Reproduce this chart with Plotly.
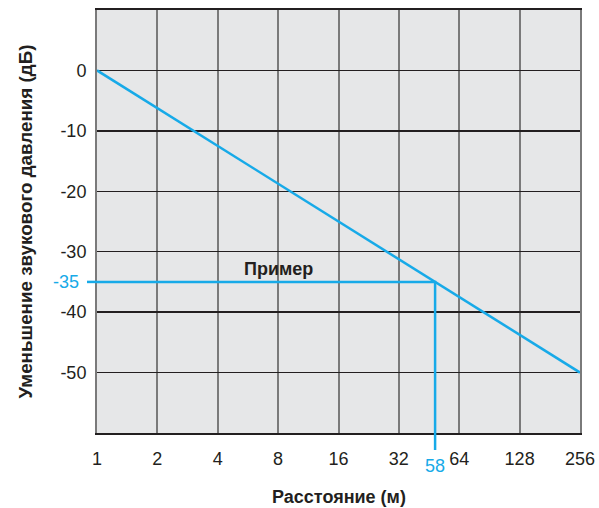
import math
import plotly.graph_objects as go

# ---- data ----
distance_ticks = [1, 2, 4, 8, 16, 32, 64, 128, 256]
distance_tick_labels = ["1", "2", "4", "8", "16", "32", "64", "128", "256"]
level_ticks = [0, -10, -20, -30, -40, -50]
level_tick_labels = ["0", "-10", "-20", "-30", "-40", "-50"]

line_distance = [1, 256]
line_level = [0, -50]

example_level = -35
example_distance = 48.5      # where the drawn example meets the line
example_distance_label = "58"
example_level_label = "-35"
example_label = "Пример"
example_label_pos = (8, -32.8)

x_title = "Расстояние (м)"
y_title = "Уменьшение звукового давления (дБ)"

# ---- style ----
BLUE = "#17aae8"
DARK = "#231f20"
FONT = "Liberation Sans, Arial, sans-serif"
W, H = 599, 508
ML, MR, MT, MB = 97, 19, 10, 75
plot_w = W - ML - MR
plot_h = H - MT - MB
y_range = [-60, 10]

fig = go.Figure()

fig.add_trace(go.Scatter(x=line_distance, y=line_level, mode="lines",
                         line=dict(color=BLUE, width=2.5), hoverinfo="skip"))
# example: horizontal and vertical lines
fig.add_trace(go.Scatter(x=[line_distance[0], example_distance, example_distance],
                         y=[example_level, example_level, y_range[0]],
                         mode="lines", line=dict(color=BLUE, width=2.5), hoverinfo="skip"))

# extensions beyond the plot area
fig.add_shape(type="line", xref="paper", yref="y", x0=-10 / plot_w, x1=0,
              y0=example_level, y1=example_level, line=dict(color=BLUE, width=2.5))
fig.add_shape(type="line", xref="x", yref="paper", x0=example_distance,
              x1=example_distance, y0=-17 / plot_h, y1=0,
              line=dict(color=BLUE, width=2.5))

fig.add_annotation(xref="paper", yref="y", x=0, y=example_level, xshift=-16,
                   text=example_level_label, showarrow=False, xanchor="right",
                   yanchor="middle", font=dict(family=FONT, size=18, color=BLUE))
fig.add_annotation(xref="x", yref="paper", x=math.log10(example_distance), y=-33 / plot_h,
                   text=example_distance_label, showarrow=False, xanchor="center",
                   yanchor="middle", font=dict(family=FONT, size=18, color=BLUE))
fig.add_annotation(xref="x", yref="y", x=math.log10(example_label_pos[0]),
                   y=example_label_pos[1],
                   text="<b>" + example_label + "</b>", showarrow=False,
                   xanchor="center", yanchor="middle",
                   font=dict(family=FONT, size=18, color=DARK))

fig.add_annotation(xref="paper", yref="paper", x=0.5, y=-64 / plot_h,
                   text="<b>" + x_title + "</b>", showarrow=False,
                   xanchor="center", yanchor="middle",
                   font=dict(family=FONT, size=18, color=DARK))
fig.add_annotation(xref="paper", yref="paper", x=0, xshift=-72, y=0.5,
                   text="<b>" + y_title + "</b>", showarrow=False, textangle=-90,
                   xanchor="center", yanchor="middle",
                   font=dict(family=FONT, size=18.8, color=DARK))

fig.update_layout(
    width=W, height=H,
    margin=dict(l=ML, r=MR, t=MT, b=MB, autoexpand=False),
    paper_bgcolor="white", plot_bgcolor="#e6e7e8",
    showlegend=False,
    font=dict(family=FONT, size=18, color=DARK),
    xaxis=dict(type="log", range=[0, math.log10(256)],
               tickvals=distance_ticks, ticktext=distance_tick_labels,
               showgrid=True, gridcolor="#7a7a7a", gridwidth=2,
               showline=True, linecolor=DARK, linewidth=2, mirror=True,
               ticks="outside", ticklen=8, tickcolor="rgba(0,0,0,0)",
               zeroline=False, fixedrange=True, automargin=False),
    yaxis=dict(range=y_range, tickvals=level_ticks, ticktext=level_tick_labels,
               showgrid=True, gridcolor=DARK, gridwidth=1.5,
               showline=True, linecolor="#7a7a7a", linewidth=2, mirror=True,
               ticks="outside", ticklen=5, tickcolor="rgba(0,0,0,0)",
               zeroline=False, fixedrange=True, automargin=False),
)

fig.write_html("out.html",
               config={"displayModeBar": False, "staticPlot": True},
               post_script="document.body.style.margin='0';"
                           "document.body.style.overflow='hidden';")
